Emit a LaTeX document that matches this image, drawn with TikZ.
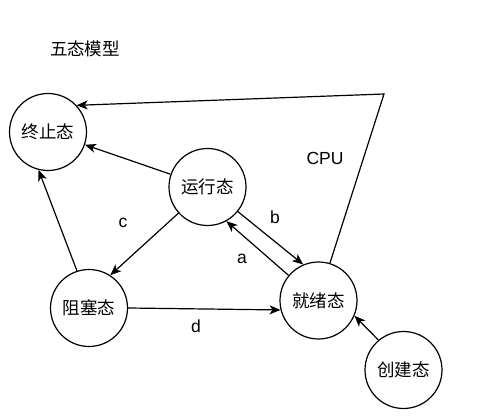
\documentclass[tikz,border=0pt]{standalone}
\usepackage{fontspec}
\setmainfont{Liberation Sans}
\newfontfamily\cjk{Noto Sans CJK SC}
\usetikzlibrary{arrows.meta}
\begin{document}
\begin{tikzpicture}[x=1pt,y=-1pt,
  state/.style={circle,draw,line width=1.2pt,minimum size=77pt,inner sep=0pt,font=\cjk\fontsize{17.5}{20}\selectfont},
  lbl/.style={font=\fontsize{17.5}{20}\selectfont,inner sep=0pt},
  conn/.style={line width=1.2pt,-{Stealth[length=11pt,width=9pt,inset=3pt]}}]
\useasboundingbox (0,0) rectangle (483,420);
\node[inner sep=0pt,font=\cjk\fontsize{17.5}{20}\selectfont] (title) at (85,49) {五态模型};
\node[state] (T) at (48,132) {终止态};
\node[state] (R) at (207.5,187) {运行态};
\node[state] (B) at (89,308) {阻塞态};
\node[state] (J) at (318.5,300.5) {就绪态};
\node[state] (C) at (403.5,370) {创建态};
\coordinate (K) at (384,94);
\draw[conn] (R) -- (T);
\draw[conn] (B.108) -- (T.-104);
\draw[conn] (R.222.5) -- (B.57);
\draw[conn] (R.-39) -- (J.113);
\draw[conn] (J.140) -- (R.-61);
\draw[conn] (B.0) -- (J.194);
\draw[conn] (C.130) -- (J.-23);
\draw[conn] (J.73) -- (K) -- (T.43);
\node[lbl] (cpu) at (325,158) {CPU};
\node[lbl] (lc) at (123,223) {c};
\node[lbl] (lb) at (275,217) {b};
\node[lbl] (la) at (242,259) {a};
\node[lbl] (ld) at (196,326) {d};
\end{tikzpicture}
\end{document}
